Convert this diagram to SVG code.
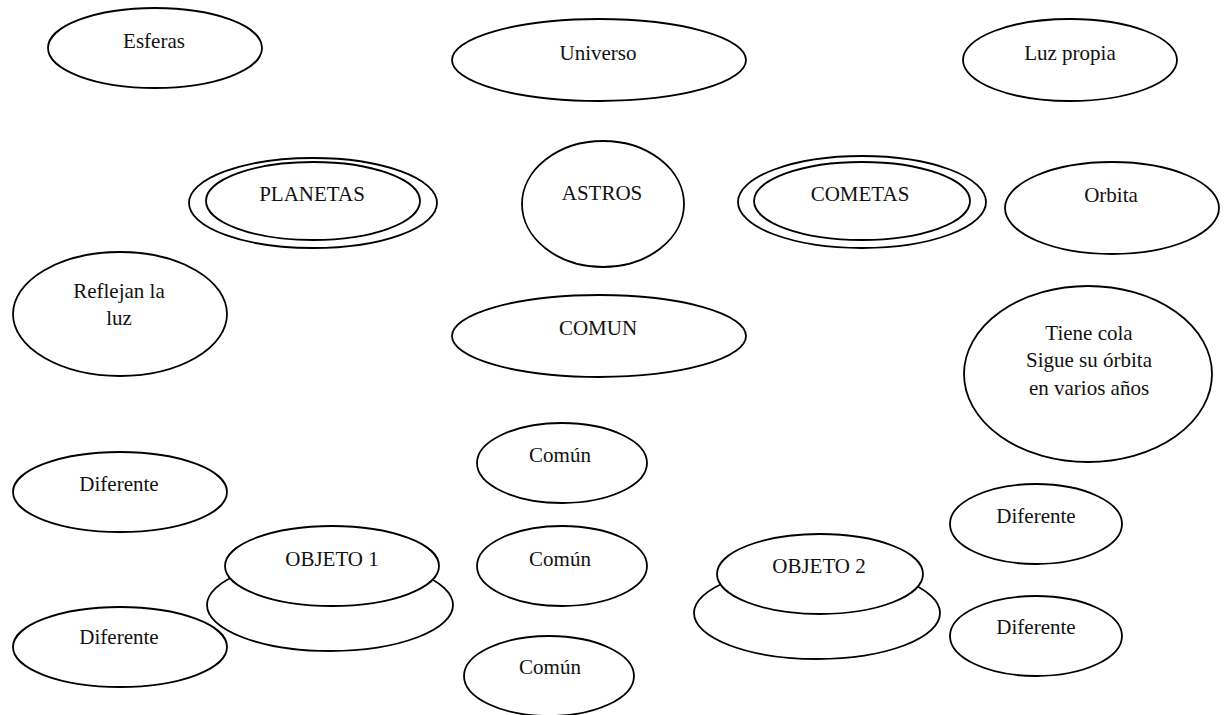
<svg xmlns="http://www.w3.org/2000/svg" width="1224" height="715" viewBox="0 0 1224 715">
<style>
ellipse{fill:#fff;stroke:#000;stroke-width:1.8}
text{font-family:"Liberation Serif","Times New Roman",serif;font-size:21px;fill:#111;text-anchor:middle}
</style>
<rect width="1224" height="715" fill="#fff"/>
<g id="connectors"></g>
<g id="esferas"><ellipse cx="155" cy="48" rx="107" ry="40"/><text x="154" y="48">Esferas</text></g>
<g id="universo"><ellipse cx="599" cy="60" rx="147" ry="41"/><text x="598" y="60">Universo</text></g>
<g id="luz-propia"><ellipse cx="1070" cy="60" rx="107" ry="41"/><text x="1070" y="60">Luz propia</text></g>
<g id="planetas"><ellipse cx="313" cy="203" rx="124" ry="45"/><ellipse cx="313" cy="201" rx="107" ry="39"/><text x="312" y="201">PLANETAS</text></g>
<g id="astros"><ellipse cx="603" cy="204" rx="81" ry="63"/><text x="602" y="200">ASTROS</text></g>
<g id="cometas"><ellipse cx="862" cy="202" rx="124" ry="46"/><ellipse cx="862" cy="201" rx="108" ry="39"/><text x="860" y="201">COMETAS</text></g>
<g id="orbita"><ellipse cx="1112" cy="208" rx="107" ry="46"/><text x="1111" y="202">Orbita</text></g>
<g id="reflejan"><ellipse cx="120" cy="314" rx="107" ry="62"/><text x="119" y="298">Reflejan la</text><text x="119" y="325">luz</text></g>
<g id="comun"><ellipse cx="599" cy="336" rx="147" ry="41"/><text x="598" y="335">COMUN</text></g>
<g id="tiene-cola"><ellipse cx="1088" cy="374" rx="124" ry="88"/><text x="1089" y="340">Tiene cola</text><text x="1089" y="367">Sigue su órbita</text><text x="1089" y="395">en varios años</text></g>
<g id="comun-1"><ellipse cx="562" cy="463" rx="85" ry="40"/><text x="560" y="462">Común</text></g>
<g id="comun-2"><ellipse cx="562" cy="566" rx="85" ry="40"/><text x="560" y="566">Común</text></g>
<g id="comun-3"><ellipse cx="549" cy="676" rx="85" ry="40"/><text x="550" y="674">Común</text></g>
<g id="diferente-l1"><ellipse cx="120" cy="492" rx="107" ry="40"/><text x="119" y="491">Diferente</text></g>
<g id="diferente-l2"><ellipse cx="120" cy="647" rx="107" ry="40"/><text x="119" y="644">Diferente</text></g>
<g id="objeto-1"><ellipse cx="330" cy="605" rx="123" ry="46"/><ellipse cx="332" cy="566" rx="107" ry="40"/><text x="332" y="566">OBJETO 1</text></g>
<g id="objeto-2"><ellipse cx="817" cy="613" rx="123" ry="46"/><ellipse cx="820" cy="574" rx="103" ry="40"/><text x="819" y="573">OBJETO 2</text></g>
<g id="diferente-r1"><ellipse cx="1036" cy="524" rx="86" ry="40"/><text x="1036" y="523">Diferente</text></g>
<g id="diferente-r2"><ellipse cx="1036" cy="636" rx="86" ry="40"/><text x="1036" y="634">Diferente</text></g>
</svg>
